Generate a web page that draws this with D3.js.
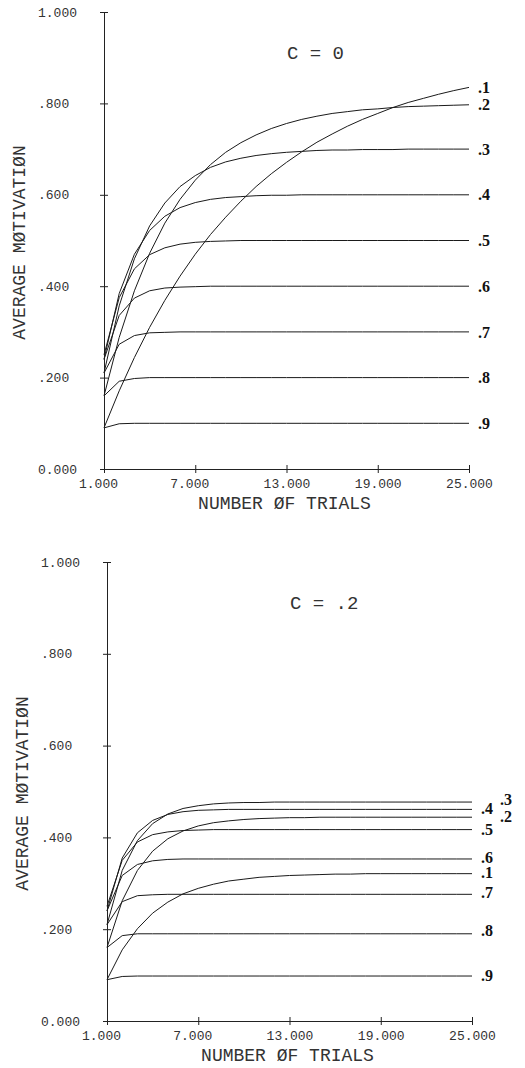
<!DOCTYPE html>
<html>
<head>
<meta charset="utf-8">
<script src="https://cdn.jsdelivr.net/npm/d3@7"></script>
<style>
  body { margin: 0; background: #fff; }
</style>
</head>
<body>
<script>
// Data
var trials = [1, 2, 3, 4, 5, 6, 7, 8, 9, 10, 11, 12, 13, 14, 15, 16, 17, 18, 19, 20, 21, 22, 23, 24, 25];
var seriesNames = ['.1', '.2', '.3', '.4', '.5', '.6', '.7', '.8', '.9'];

// C = 0
var motivationC0 = [
    [.090, .171, .244, .310, .369, .422, .470, .513, .551, .586, .618, .646, .671, .694, .715, .733, .750, .765, .778, .791, .802, .811, .820, .828, .835],
    [.160, .288, .390, .472, .538, .590, .632, .666, .693, .714, .731, .745, .756, .765, .772, .778, .782, .786, .788, .791, .793, .794, .795, .796, .797],
    [.210, .357, .460, .532, .582, .618, .642, .660, .672, .680, .686, .690, .693, .695, .697, .698, .698, .699, .699, .699, .700, .700, .700, .700, .700],
    [.240, .384, .470, .522, .553, .572, .583, .590, .594, .596, .598, .599, .599, .600, .600, .600, .600, .600, .600, .600, .600, .600, .600, .600, .600],
    [.250, .375, .438, .469, .484, .492, .496, .498, .499, .500, .500, .500, .500, .500, .500, .500, .500, .500, .500, .500, .500, .500, .500, .500, .500],
    [.240, .336, .374, .390, .396, .398, .399, .400, .400, .400, .400, .400, .400, .400, .400, .400, .400, .400, .400, .400, .400, .400, .400, .400, .400],
    [.210, .273, .292, .298, .299, .300, .300, .300, .300, .300, .300, .300, .300, .300, .300, .300, .300, .300, .300, .300, .300, .300, .300, .300, .300],
    [.160, .192, .198, .200, .200, .200, .200, .200, .200, .200, .200, .200, .200, .200, .200, .200, .200, .200, .200, .200, .200, .200, .200, .200, .200],
    [.090, .099, .100, .100, .100, .100, .100, .100, .100, .100, .100, .100, .100, .100, .100, .100, .100, .100, .100, .100, .100, .100, .100, .100, .100]
];

// C = .2
var motivationC2 = [
    [.090, .155, .201, .235, .259, .277, .289, .298, .305, .309, .313, .315, .317, .318, .319, .320, .320, .321, .321, .321, .321, .321, .321, .321, .321],
    [.160, .262, .328, .370, .397, .414, .425, .432, .436, .439, .441, .442, .443, .443, .444, .444, .444, .444, .444, .444, .444, .444, .444, .444, .444],
    [.210, .328, .393, .430, .451, .463, .469, .473, .475, .476, .476, .477, .477, .477, .477, .477, .477, .477, .477, .477, .477, .477, .477, .477, .477],
    [.240, .355, .410, .437, .450, .456, .459, .460, .461, .461, .461, .461, .461, .461, .461, .461, .461, .461, .461, .461, .461, .461, .461, .461, .461],
    [.250, .350, .390, .406, .412, .415, .416, .417, .417, .417, .417, .417, .417, .417, .417, .417, .417, .417, .417, .417, .417, .417, .417, .417, .417],
    [.240, .317, .341, .349, .352, .353, .353, .353, .353, .353, .353, .353, .353, .353, .353, .353, .353, .353, .353, .353, .353, .353, .353, .353, .353],
    [.210, .260, .273, .275, .276, .276, .276, .276, .276, .276, .276, .276, .276, .276, .276, .276, .276, .276, .276, .276, .276, .276, .276, .276, .276],
    [.160, .186, .190, .190, .190, .190, .190, .190, .190, .190, .190, .190, .190, .190, .190, .190, .190, .190, .190, .190, .190, .190, .190, .190, .190],
    [.090, .097, .098, .098, .098, .098, .098, .098, .098, .098, .098, .098, .098, .098, .098, .098, .098, .098, .098, .098, .098, .098, .098, .098, .098]
];

var xTicks = [1, 7, 13, 19, 25];
var xTickLabels = ['1.000', '7.000', '13.000', '19.000', '25.000'];
var yTicks = [0, 0.2, 0.4, 0.6, 0.8, 1];
var yTickLabels = ['0.000', '.200', '.400', '.600', '.800', '1.000'];
var panelTitles = ['C = 0', 'C = .2'];

var monoFont = '"Liberation Mono", "DejaVu Sans Mono", monospace';

var svg = d3.select('body').append('svg')
    .attr('width', 525)
    .attr('height', 1068)
;

function drawPanel(values, title, left, right, top, bottom, labelShift) {
    var x = d3.scaleLinear().domain([1, 25]).range([left, right]);
    var y = d3.scaleLinear().domain([0, 1]).range([bottom, top]);

    var g = svg.append('g');

    // Y axis
    var yAxis = g.append('g')
        .attr('transform', 'translate(' + left + ',0)')
        .call(d3.axisLeft(y)
            .tickValues(yTicks)
            .tickFormat(function (d, i) { return yTickLabels[i]; })
            .tickSizeInner(4)
            .tickSizeOuter(0))
    ;
    yAxis.selectAll('.tick line').attr('x1', 4).attr('stroke', '#222');
    yAxis.select('.domain').attr('stroke', '#222');
    yAxis.selectAll('.tick text')
        .attr('x', -66)
        .attr('text-anchor', 'start')
        .attr('font-family', monoFont)
        .attr('font-size', '13px')
        .attr('fill', '#333')
    ;

    // X axis
    var xAxis = g.append('g')
        .attr('transform', 'translate(0,' + bottom + ')')
        .call(d3.axisBottom(x)
            .tickValues(xTicks)
            .tickFormat(function (d, i) { return xTickLabels[i]; })
            .tickSizeInner(4)
            .tickSizeOuter(0))
    ;
    xAxis.selectAll('.tick line').attr('y1', -4).attr('stroke', '#222');
    xAxis.select('.domain').attr('stroke', '#222');
    xAxis.selectAll('.tick text')
        .attr('y', 10)
        .attr('dx', function (d, i) { return xTickLabels[i].length < 6 ? -6 : 0; })
        .attr('font-family', monoFont)
        .attr('font-size', '13px')
        .attr('fill', '#333')
    ;

    // Axis titles
    g.append('text')
        .text('NUMBER ØF TRIALS')
        .attr('x', (left + right) / 2 - 2)
        .attr('y', bottom + 40)
        .attr('text-anchor', 'middle')
        .attr('font-family', monoFont)
        .attr('font-size', '18px')
        .attr('fill', '#333')
    ;
    g.append('text')
        .text('AVERAGE MØTIVATIØN')
        .attr('transform', 'translate(' + (left - 79) + ',' + ((top + bottom) / 2 + 2) + ') rotate(-90)')
        .attr('text-anchor', 'middle')
        .attr('font-family', monoFont)
        .attr('font-size', '18px')
        .attr('fill', '#333')
    ;

    // Panel title
    g.append('text')
        .text(title)
        .attr('x', left + 183)
        .attr('y', top + 47)
        .attr('font-family', monoFont)
        .attr('font-size', '19px')
        .attr('fill', '#333')
    ;

    // Curves
    var line = d3.line()
        .x(function (d, i) { return x(trials[i]); })
        .y(function (d) { return y(d); })
    ;
    g.selectAll('path.curve')
        .data(values)
        .enter()
        .append('path')
        .attr('class', 'curve')
        .attr('d', line)
        .attr('fill', 'none')
        .attr('stroke', '#1a1a1a')
        .attr('stroke-width', 1)
    ;

    // End labels
    g.selectAll('text.end')
        .data(values)
        .enter()
        .append('text')
        .attr('class', 'end')
        .text(function (d, i) { return seriesNames[i]; })
        .attr('x', function (d, i) { return right + 9 + labelShift[i][0]; })
        .attr('y', function (d, i) { return y(d[d.length - 1]) + labelShift[i][1]; })
        .attr('dy', '0.35em')
        .attr('font-family', '"Liberation Serif", serif')
        .attr('font-weight', 'bold')
        .attr('font-size', '16px')
        .attr('fill', '#111')
    ;
}

var noShift = [[0, 0], [0, 0], [0, 0], [0, 0], [0, 0], [0, 0], [0, 0], [0, 0], [0, 0]];
var bottomShift = [[0, -1], [19, -1], [19, -3], [0, -1], [0, 0], [0, -2], [0, -2], [0, -3], [0, -1]];

drawPanel(motivationC0, panelTitles[0], 104, 469, 12, 469, noShift);
drawPanel(motivationC2, panelTitles[1], 107, 472, 562, 1021, bottomShift);
</script>
</body>
</html>
